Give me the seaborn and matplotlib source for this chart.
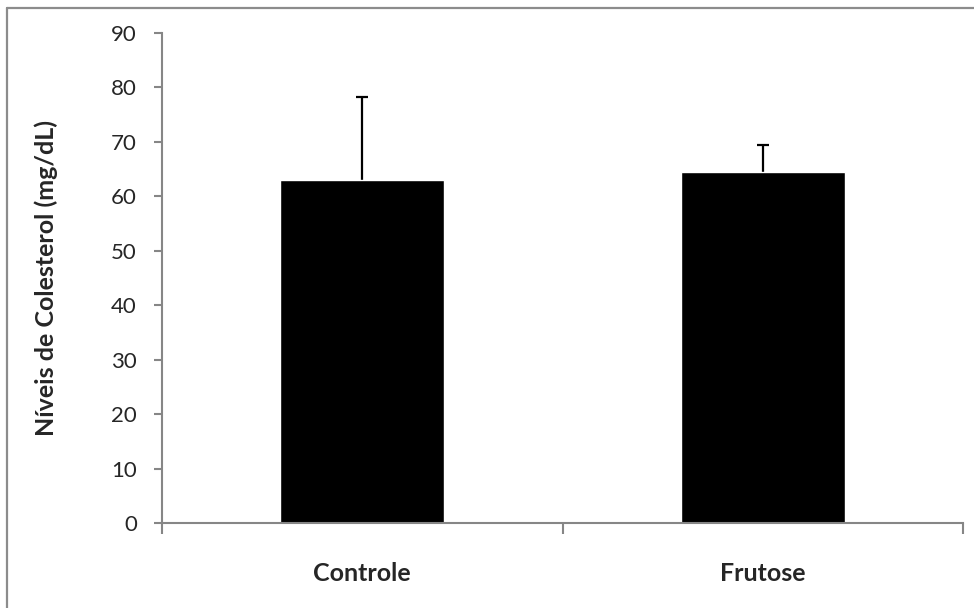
import matplotlib
matplotlib.use("Agg")
import matplotlib.pyplot as plt
import seaborn as sns
import pandas as pd
from matplotlib.lines import Line2D

groups = ["Controle", "Frutose"]
means = [63.0, 64.5]
errors = [15.2, 5.0]
y_ticks = [0, 10, 20, 30, 40, 50, 60, 70, 80, 90]
y_label = "Níveis de Colesterol (mg/dL)"

sns.set_style("white")
plt.rcParams["font.family"] = ["Lato", "DejaVu Sans"]

df = pd.DataFrame({"grupo": groups, "valor": means})

fig = plt.figure(figsize=(9.74, 6.08), dpi=100)
ax = fig.add_axes([162 / 974, 1 - 523 / 608, (963 - 162) / 974, (523 - 33) / 608])

sns.barplot(data=df, x="grupo", y="valor", color="black", width=0.41,
            saturation=1, errorbar=None, ax=ax, zorder=2)
# upper-only error bars
_, caps, _ = ax.errorbar(range(len(groups)), means, yerr=[[0] * len(errors), errors],
                         fmt="none", ecolor="black", elinewidth=1.6, capsize=4.5,
                         capthick=1.6, zorder=1)
caps[0].remove()

ax.set_xlim(-0.5, len(groups) - 0.5)
ax.set_ylim(0, 90)
ax.set_yticks(y_ticks)
ax.set_yticklabels([str(t) for t in y_ticks], fontsize=16)
ax.set_xticks(range(len(groups)))
ax.set_xticklabels(groups, fontsize=18, fontweight="bold")
ax.tick_params(axis="x", length=0, pad=28)
ax.tick_params(axis="y", length=6, width=1.5, color="#868686", direction="out", pad=12, left=True)
# boundary ticks on the category axis
ax.set_xticks([i - 0.5 for i in range(len(groups) + 1)], minor=True)
ax.tick_params(axis="x", which="minor", length=8, width=1.5, color="#868686", direction="out", bottom=True)

ax.set_xlabel("")
ax.set_ylabel(y_label, fontsize=18, fontweight="bold", labelpad=38)

for side in ["top", "right"]:
    ax.spines[side].set_visible(False)
for side in ["left", "bottom"]:
    ax.spines[side].set_color("#868686")
    ax.spines[side].set_linewidth(1.5)
    ax.spines[side].set_zorder(4)

# outer chart border (Excel style)
fig.add_artist(Line2D([7 / 974, 1.0], [1 - 8 / 608, 1 - 8 / 608], color="#8c8c8c", lw=1.6))
fig.add_artist(Line2D([7 / 974, 7 / 974], [0.0, 1 - 8 / 608], color="#8c8c8c", lw=1.6))

fig.savefig("out.png", dpi=100, facecolor="white")
